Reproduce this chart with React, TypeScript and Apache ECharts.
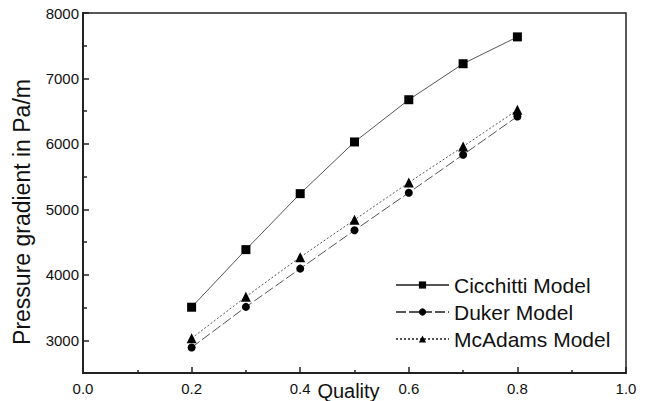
import React, { useEffect, useRef } from "react";
import * as echarts from "echarts";

const quality = [0.2, 0.3, 0.4, 0.5, 0.6, 0.7, 0.8];
const cicchitti = [3505, 4385, 5240, 6030, 6675, 7225, 7635];
const duker = [2890, 3510, 4095, 4680, 5255, 5835, 6420];
const mcadams = [3030, 3665, 4270, 4840, 5410, 5960, 6520];
const yMajorTicks = [3000, 4000, 5000, 6000, 7000, 8000];
const yMinorTicks = [3500, 4500, 5500, 6500, 7500];
const seriesNames = ["Cicchitti Model", "Duker Model", "McAdams Model"];

const FONT = "Liberation Sans, Arial, sans-serif";

export default function App() {
  const ref = useRef<HTMLDivElement>(null);
  useEffect(() => {
    if (!ref.current) return;
    const chart = echarts.init(ref.current, undefined, { renderer: "svg" });
    const pair = (ys: number[]) => quality.map((x, i) => [x, ys[i]]);
    chart.setOption({
      animation: false,
      backgroundColor: "#ffffff",
      textStyle: { fontFamily: FONT },
      grid: {
        left: 83,
        right: 22,
        top: 13,
        bottom: 28,
        outerBoundsMode: "none",
        containLabel: false,
        show: true,
        borderColor: "#222",
        borderWidth: 1.5,
      },
      legend: {
        orient: "vertical",
        left: 390,
        top: 269,
        itemWidth: 53,
        itemHeight: 9,
        itemGap: 5,
        data: seriesNames,
        textStyle: { fontSize: 21, color: "#111", fontFamily: FONT, lineHeight: 22 },
      },
      xAxis: {
        type: "value",
        min: 0,
        max: 1,
        interval: 0.2,
        name: "Quality",
        nameLocation: "middle",
        nameGap: 8,
        nameMoveOverlap: false,
        nameTextStyle: { fontSize: 20, color: "#111", verticalAlign: "top", padding: [0, 12, 0, 0] },
        axisLine: { show: true, lineStyle: { color: "#222", width: 2 } },
        axisTick: { show: true, inside: true, length: 6, lineStyle: { color: "#222", width: 1.5 } },
        minorTick: { show: true, splitNumber: 2, length: 3, lineStyle: { color: "#222", width: 1.5 } },
        axisLabel: {
          fontSize: 15,
          color: "#111",
          margin: 8,
          formatter: (v: number) => v.toFixed(1),
        },
        splitLine: { show: false },
      },
      yAxis: [
        {
          type: "value",
          min: 2500,
          max: 8000,
          interval: 500,
          name: "Pressure gradient in Pa/m",
          nameLocation: "middle",
          nameGap: 50,
          nameMoveOverlap: false,
          nameTextStyle: { fontSize: 23, color: "#111", padding: [0, 38, 0, 0] },
          axisLine: { show: true, lineStyle: { color: "#222", width: 2 } },
          axisTick: {
            show: true,
            inside: true,
            length: 6,
            customValues: yMajorTicks,
            lineStyle: { color: "#222", width: 1.5 },
          },
          axisLabel: {
            fontSize: 15,
            color: "#111",
            margin: 4,
            customValues: yMajorTicks,
            formatter: (v: number) => String(v),
          },
          splitLine: { show: false },
        },
        {
          type: "value",
          min: 2500,
          max: 8000,
          interval: 500,
          position: "left",
          axisLine: { show: false },
          axisTick: {
            show: true,
            inside: true,
            length: 4,
            customValues: yMinorTicks,
            lineStyle: { color: "#222", width: 1.5 },
          },
          axisLabel: { show: false },
          splitLine: { show: false },
        },
      ],
      series: [
        {
          name: seriesNames[0],
          type: "line",
          data: pair(cicchitti),
          symbol: "rect",
          symbolSize: 9,
          itemStyle: { color: "#000" },
          lineStyle: { color: "#555", width: 1, type: "solid" },
        },
        {
          name: seriesNames[1],
          type: "line",
          data: pair(duker),
          symbol: "circle",
          symbolSize: 8,
          itemStyle: { color: "#000" },
          lineStyle: { color: "#555", width: 1, type: [10, 3] },
        },
        {
          name: seriesNames[2],
          type: "line",
          data: pair(mcadams),
          symbol: "triangle",
          symbolSize: 10,
          itemStyle: { color: "#000" },
          lineStyle: { color: "#555", width: 1, type: [2, 2] },
        },
      ],
    });
    return () => chart.dispose();
  }, []);
  return (
    <div
      ref={ref}
      style={{ position: "fixed", left: 0, top: 0, width: 648, height: 401 }}
    />
  );
}
